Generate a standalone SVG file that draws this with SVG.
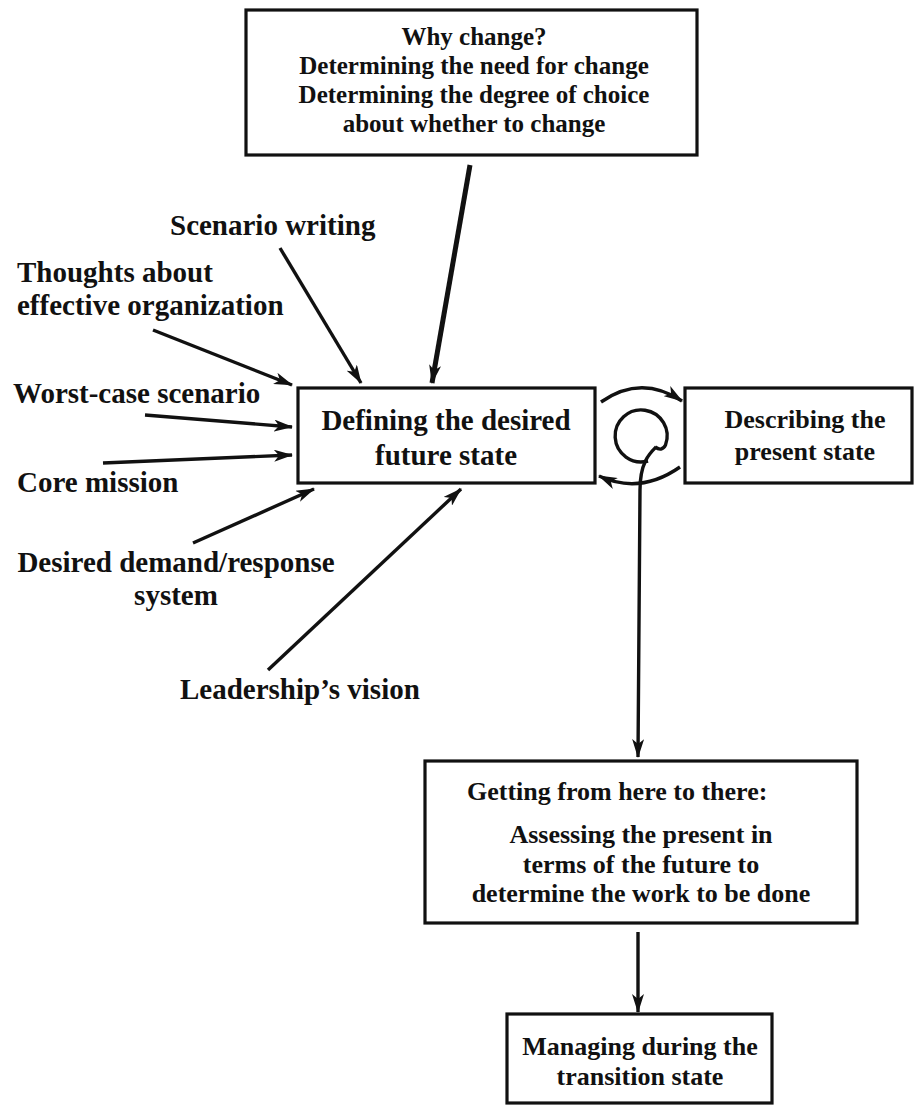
<svg xmlns="http://www.w3.org/2000/svg" width="914" height="1109" viewBox="0 0 914 1109">
<defs>
<style>
.box{fill:#fff;stroke:#111;stroke-width:3.2}
.t{font-family:"Liberation Serif","Times New Roman",serif;font-weight:bold;fill:#111}
.c{text-anchor:middle}
.ln{fill:none;stroke:#111;stroke-width:3.4;stroke-linecap:butt}
.thick{stroke-width:5}
</style>
<marker id="ah" viewBox="0 0 19 12" refX="18" refY="6" markerWidth="19" markerHeight="12" markerUnits="userSpaceOnUse" orient="auto">
<path d="M0,0 L19,6 L0,12 L5,6 z" fill="#111"/>
</marker>
</defs>
<rect width="914" height="1109" fill="#fff"/>

<g id="connectors">
<path class="ln thick" d="M470,165 L432,383" marker-end="url(#ah)"/>
<path class="ln" d="M280,248 L361,383" marker-end="url(#ah)"/>
<path class="ln" d="M153,330 L292,385" marker-end="url(#ah)"/>
<path class="ln" d="M145,415 L292,427" marker-end="url(#ah)"/>
<path class="ln" d="M103,463 L292,455" marker-end="url(#ah)"/>
<path class="ln" d="M193,543 L314,489" marker-end="url(#ah)"/>
<path class="ln" d="M268,670 L461,489" marker-end="url(#ah)"/>
<path class="ln" d="M601,402 Q641,374 682,401" marker-end="url(#ah)"/>
<path class="ln" d="M680,467 Q640,495 599,476" marker-end="url(#ah)"/>
<path class="ln" d="M648,461 A26,26 0 1 1 665.5,445 Q662,452 655,447"/>
<path class="ln" d="M656,447 C650,453 640,462 640,490 L638,757" marker-end="url(#ah)"/>
<path class="ln" d="M638,932 L638,1012" marker-end="url(#ah)"/>
</g>

<g id="why-change">
<rect class="box" x="246" y="10" width="451" height="145"/>
<text class="t c" x="474" y="45" font-size="25">Why change?</text>
<text class="t c" x="474" y="74" font-size="25">Determining the need for change</text>
<text class="t c" x="474" y="103" font-size="25">Determining the degree of choice</text>
<text class="t c" x="474" y="132" font-size="25">about whether to change</text>
</g>

<g id="scenario-writing">
<text class="t" x="170" y="235" font-size="29">Scenario writing</text>
</g>
<g id="thoughts">
<text class="t" x="17" y="282" font-size="29">Thoughts about</text>
<text class="t" x="17" y="315" font-size="29">effective organization</text>
</g>
<g id="worst-case">
<text class="t" x="13" y="403" font-size="29">Worst-case scenario</text>
</g>
<g id="core-mission">
<text class="t" x="17" y="492" font-size="29">Core mission</text>
</g>
<g id="desired-demand">
<text class="t c" x="176" y="572" font-size="29">Desired demand/response</text>
<text class="t c" x="176" y="605" font-size="29">system</text>
</g>
<g id="leadership">
<text class="t" x="180" y="699" font-size="29">Leadership’s vision</text>
</g>

<g id="defining">
<rect class="box" x="298" y="388" width="297" height="95"/>
<text class="t c" x="446" y="430" font-size="29">Defining the desired</text>
<text class="t c" x="446" y="465" font-size="29">future state</text>
</g>

<g id="describing">
<rect class="box" x="685" y="388" width="227" height="95"/>
<text class="t c" x="805" y="428" font-size="26">Describing the</text>
<text class="t c" x="805" y="460" font-size="26">present state</text>
</g>

<g id="getting">
<rect class="box" x="425" y="761" width="432" height="162"/>
<text class="t" x="467" y="800" font-size="26">Getting from here to there:</text>
<text class="t c" x="641" y="843" font-size="26">Assessing the present in</text>
<text class="t c" x="641" y="873" font-size="26">terms of the future to</text>
<text class="t c" x="641" y="902" font-size="26">determine the work to be done</text>
</g>

<g id="managing">
<rect class="box" x="507" y="1014" width="265" height="89"/>
<text class="t c" x="640" y="1055" font-size="26">Managing during the</text>
<text class="t c" x="640" y="1085" font-size="26">transition state</text>
</g>
</svg>
